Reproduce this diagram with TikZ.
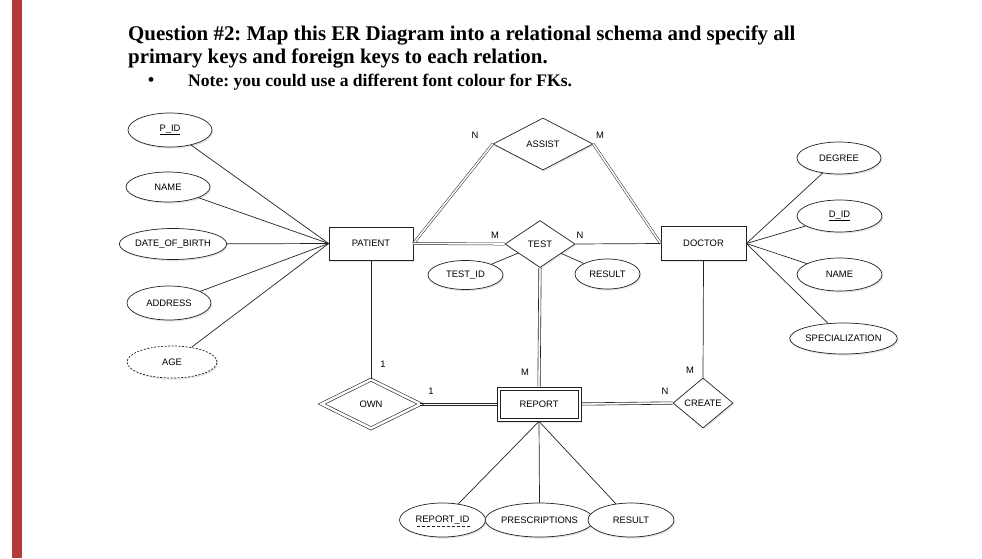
\documentclass[tikz,border=0pt]{standalone}
\usepackage{fontspec}
\setmainfont{Liberation Serif}
\newfontfamily\arialf{Liberation Sans}
\usetikzlibrary{shapes.geometric,shadows}
\frenchspacing
\definecolor{barred}{HTML}{B23A3A}
\definecolor{ink}{HTML}{222222}
\tikzset{
  every picture/.style={x=1pt,y=-1pt},
  dfont/.style={font=\arialf\fontsize{9.4}{10}\selectfont},
  shd/.style={fill=white, drop shadow={opacity=0.2, shadow xshift=1.2pt, shadow yshift=-1.6pt}},
  attr/.style={ellipse, draw=ink, line width=0.7pt, inner sep=0pt, dfont, shd},
  ent/.style={rectangle, draw=ink, line width=0.7pt, inner sep=0pt, dfont, shd},
  rel/.style={diamond, draw=ink, line width=0.7pt, inner sep=0pt, dfont, shd},
  lbl/.style={inner sep=0pt, dfont},
  link/.style={draw=ink, line width=0.7pt},
  dlink/.style={draw=ink, double=white, double distance=1.6pt, line width=0.5pt},
  dshape/.style={double=white, double distance=2.4pt, line width=0.6pt},
  ttl/.style={inner sep=0pt, anchor=base west, font=\bfseries\fontsize{20.9}{24}\selectfont},
}
\begin{document}
\begin{tikzpicture}
\useasboundingbox (0,0) rectangle (982,558);
\fill[barred] (12,0) rectangle (22,558);

% title
\node[ttl] (t1) at (128,40) {Question \#2: Map this ER Diagram into a relational schema and specify all};
\node[ttl] (t2) at (128,63) {primary keys and foreign keys to each relation.};
\node[inner sep=0pt, anchor=base, font=\fontsize{20}{20}\selectfont] (bul) at (151,86) {\textbullet};
\node[inner sep=0pt, anchor=base west, font=\bfseries\fontsize{17.6}{19}\selectfont] (note) at (188,86) {Note: you could use a different font colour for FKs.};

% patient attributes
\node[attr, minimum width=84pt, minimum height=34pt] (pid) at (170,130) {\underline{P\_ID}};
\node[attr, minimum width=84pt, minimum height=30pt] (pname) at (168,187) {NAME};
\node[attr, minimum width=93pt, minimum height=31pt] (dob) at (173,244) {DATE\_OF\_BIRTH};
\node[attr, minimum width=84pt, minimum height=34pt] (addr) at (169,303) {ADDRESS};
\node[attr, dash pattern=on 2pt off 1.5pt, minimum width=90pt, minimum height=32pt] (age) at (172,362) {AGE};

% entities
\node[ent, minimum width=84pt, minimum height=33pt] (patient) at (371,243.5) {PATIENT};
\node[ent, minimum width=85pt, minimum height=34pt] (doctor) at (703.5,243.5) {DOCTOR};
\node[ent, minimum width=84pt, minimum height=34pt] (report) at (539,404) {REPORT};
\draw[ink, line width=0.7pt] ([shift={(3.5,3.5)}]report.north west) rectangle ([shift={(-3.5,-3.5)}]report.south east);

% relationships
\node[rel, minimum width=100pt, minimum height=52pt] (assist) at (543,144) {ASSIST};
\node[rel, minimum width=70pt, minimum height=47pt] (test) at (540,244) {TEST};
\node[rel, dshape, minimum width=99pt, minimum height=49pt] (own) at (371,404) {OWN};
\node[rel, minimum width=60pt, minimum height=50pt] (create) at (703,403) {CREATE};

% test attributes
\node[attr, minimum width=75pt, minimum height=29pt] (testid) at (465.5,275) {TEST\_ID};
\node[attr, minimum width=65pt, minimum height=30pt] (tres) at (607.5,274) {RESULT};

% doctor attributes
\node[attr, minimum width=84pt, minimum height=32pt] (degree) at (839,158) {DEGREE};
\node[attr, minimum width=85pt, minimum height=32pt] (did) at (839.5,216) {\underline{D\_ID}};
\node[attr, minimum width=85pt, minimum height=33pt] (dname) at (839.5,274.5) {NAME};
\node[attr, minimum width=87pt, minimum height=31pt] (spec) at (843.5,338.5) {SPECIALIZATION};

% report attributes
\node[attr, minimum width=86pt, minimum height=34pt] (rid) at (442.5,520) {REPORT\_ID};
\node[attr, minimum width=87pt, minimum height=34pt] (presc) at (539.5,520) {PRESCRIPTIONS};
\node[attr, minimum width=86pt, minimum height=34pt] (rres) at (631,520) {RESULT};
\draw[ink, line width=0.6pt, dash pattern=on 3pt off 2pt] ([xshift=-26pt,yshift=-6pt]rid.center) -- ([xshift=27pt,yshift=-6pt]rid.center);

% attribute links
\foreach \a in {pid,pname,dob,addr,age} \draw[link] (\a) -- (patient.west);
\foreach \a in {degree,did,dname,spec} \draw[link] (doctor.east) -- (\a);
\draw[link] (test) -- (testid);
\draw[link] (test) -- (tres);
\draw[link] (report.south) -- (rid);
\draw[link] (report.south) -- (presc.north);
\draw[link] (report.south) -- (rres);

% relationship links
\draw[dlink] (patient.east) -- (assist.west);
\draw[dlink] (assist.east) -- (doctor.west);
\draw[dlink] (patient.east) -- (test.west);
\draw[link] (test.east) -- (doctor.west);
\draw[link, line width=0.6pt] ([xshift=-1.2pt]test.south) -- ([xshift=-1.2pt]report.north);
\draw[link, line width=0.6pt] ([xshift=1.2pt]test.south) -- ([xshift=1.2pt]report.north);
\draw[link] (patient.south) -- (own.north);
\draw[link, line width=0.6pt] ([shift={(-1,-1.2)}]own.east) -- ([yshift=1.2pt]report.west);
\draw[link, line width=0.6pt] ([shift={(-1,1.2)}]own.east) -- ([yshift=-1.2pt]report.west);
\draw[link, line width=0.6pt] ([yshift=1.2pt]report.east) -- ([yshift=1.2pt]create.west);
\draw[link, line width=0.6pt] ([yshift=-1.2pt]report.east) -- ([yshift=-1.2pt]create.west);
\draw[link] (doctor.south) -- (create.north);

% cardinalities
\node[lbl] (c1) at (475,135) {N};
\node[lbl] (c2) at (600,135) {M};
\node[lbl] (c3) at (495,235) {M};
\node[lbl] (c4) at (580,235) {N};
\node[lbl] (c5) at (525,372) {M};
\node[lbl] (c6) at (383,364) {1};
\node[lbl] (c7) at (431,391) {1};
\node[lbl] (c8) at (665,391) {N};
\node[lbl] (c9) at (690,370) {M};
\end{tikzpicture}
\end{document}
